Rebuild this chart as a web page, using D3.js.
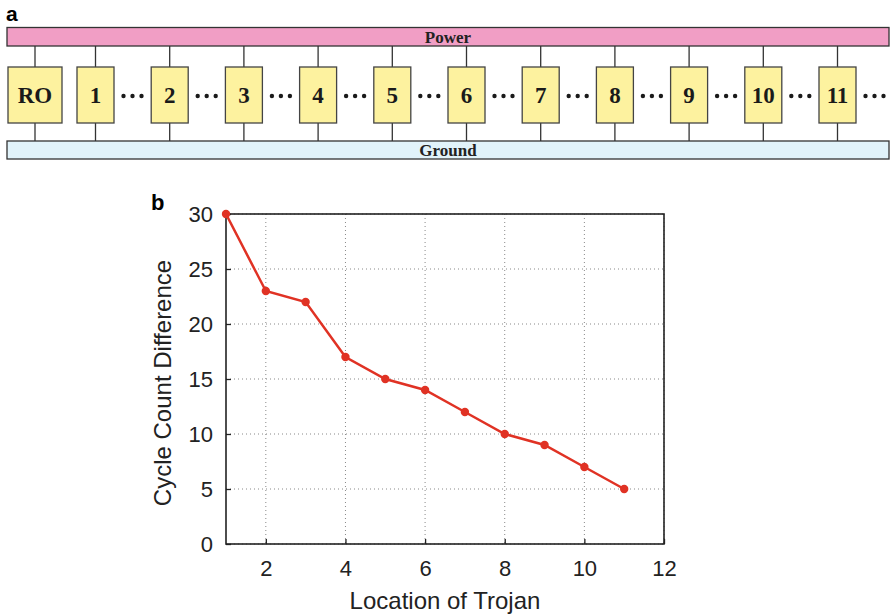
<!doctype html>
<html>
<head>
  <meta charset="utf8">
  <title>sketch</title>
  <style>
    body { margin: 0; padding: 0; background: #fff; }
    svg { display: block; }
  </style>
</head>
<body>
  <svg></svg>

  <script src="https://d3js.org/d3.v7.min.js"></script>
  <script>
    // panel a: ring oscillator chain
    const blocks = ['RO', '1', '2', '3', '4', '5', '6', '7', '8', '9', '10', '11']
    // panel b: cycle count difference by trojan location
    const locations = [1, 2, 3, 4, 5, 6, 7, 8, 9, 10, 11]
    const cycleDiff = [30, 23, 22, 17, 15, 14, 12, 10, 9, 7, 5]
    const xTicks = [2, 4, 6, 8, 10, 12]
    const yTicks = [0, 5, 10, 15, 20, 25, 30]

    const width = 892
    const height = 616
    const svg = d3.select('svg').attr('width', width).attr('height', height)
    const serif = '"Liberation Serif", "Times New Roman", serif'
    const sans = '"Liberation Sans", Arial, Helvetica, sans-serif'

    // ---- panel a ----
    svg.append('text').attr('x', 6).attr('y', 21).text('a')
      .style('font-family', sans).style('font-weight', 'bold').style('font-size', '21px')

    const barX0 = 7, barX1 = 889
    svg.append('rect').attr('x', barX0).attr('y', 27.5).attr('width', barX1 - barX0).attr('height', 18.5)
      .attr('fill', '#f19ec5').attr('stroke', '#333').attr('stroke-width', 1.3)
    svg.append('rect').attr('x', barX0).attr('y', 141).attr('width', barX1 - barX0).attr('height', 18)
      .attr('fill', '#e1f3fa').attr('stroke', '#333').attr('stroke-width', 1.3)
    svg.append('text').attr('x', 448).attr('y', 43).attr('text-anchor', 'middle').text('Power')
      .style('font-family', serif).style('font-weight', 'bold').style('font-size', '17px').attr('fill', '#222')
    svg.append('text').attr('x', 448).attr('y', 155.5).attr('text-anchor', 'middle').text('Ground')
      .style('font-family', serif).style('font-weight', 'bold').style('font-size', '17px').attr('fill', '#222')

    // box centres: RO wider, others evenly spaced
    const boxPos = d3.scalePoint().domain(blocks.slice(1)).range([95.5, 95.5 + 10 * 74.2])
    const cx = d => d === 'RO' ? 35 : boxPos(d)
    const bw = d => d === 'RO' ? 54 : 37
    const boxTop = 67, boxH = 56

    const boxes = svg.append('g').selectAll('g').data(blocks).join('g')
    boxes.append('line').attr('x1', cx).attr('x2', cx).attr('y1', 46).attr('y2', boxTop)
      .attr('stroke', '#333').attr('stroke-width', 1.3)
    boxes.append('line').attr('x1', cx).attr('x2', cx).attr('y1', boxTop + boxH).attr('y2', 141)
      .attr('stroke', '#333').attr('stroke-width', 1.3)
    boxes.append('rect').attr('x', d => cx(d) - bw(d) / 2).attr('y', boxTop)
      .attr('width', bw).attr('height', boxH)
      .attr('fill', '#fdf29f').attr('stroke', '#444').attr('stroke-width', 1.3)
    boxes.append('text').attr('x', cx).attr('y', boxTop + boxH / 2 + 8).attr('text-anchor', 'middle')
      .text(d => d)
      .style('font-family', serif).style('font-weight', 'bold').style('font-size', '23px').attr('fill', '#1a1a1a')

    // dots after each numbered box
    const dotGroups = svg.append('g').selectAll('g').data(blocks.slice(1)).join('g')
      .attr('transform', d => `translate(${cx(d) + 37},${boxTop + boxH / 2 + 1})`)
    dotGroups.selectAll('circle').data([-9, 0, 9]).join('circle')
      .attr('cx', d => d).attr('cy', 0).attr('r', 2.2).attr('fill', '#1a1a1a')

    // ---- panel b ----
    const pLeft = 226, pRight = 664, pTop = 214, pBottom = 544
    const x = d3.scaleLinear().domain([1, 12]).range([pLeft, pRight])
    const y = d3.scaleLinear().domain([0, 30]).range([pBottom, pTop])

    svg.append('text').attr('x', 151).attr('y', 210).text('b')
      .style('font-family', sans).style('font-weight', 'bold').style('font-size', '22px')

    const grid = svg.append('g')
    grid.selectAll('.gx').data(xTicks).join('line')
      .attr('x1', x).attr('x2', x).attr('y1', pTop).attr('y2', pBottom)
      .attr('stroke', '#888').attr('stroke-width', 1).attr('stroke-dasharray', '1,3')
    grid.selectAll('.gy').data(yTicks).join('line')
      .attr('x1', pLeft).attr('x2', pRight).attr('y1', y).attr('y2', y)
      .attr('stroke', '#888').attr('stroke-width', 1).attr('stroke-dasharray', '1,3')

    const xAxis = svg.append('g').attr('transform', `translate(0,${pBottom})`)
      .call(d3.axisBottom(x).tickValues(xTicks).tickSize(-5).tickPadding(16))
    const yAxis = svg.append('g').attr('transform', `translate(${pLeft},0)`)
      .call(d3.axisLeft(y).tickValues(yTicks).tickSize(-5).tickPadding(13))
    ;[xAxis, yAxis].forEach(a => {
      a.select('.domain').remove()
      a.selectAll('.tick line').attr('stroke', '#222').attr('stroke-width', 1.3)
      a.selectAll('text').style('font-family', sans).style('font-size', '22px').attr('fill', '#222')
    })
    yAxis.selectAll('text').attr('dy', '0.36em')

    svg.append('rect').attr('x', pLeft).attr('y', pTop).attr('width', pRight - pLeft).attr('height', pBottom - pTop)
      .attr('fill', 'none').attr('stroke', '#222').attr('stroke-width', 1.6)

    const pts = locations.map((d, i) => [d, cycleDiff[i]])
    svg.append('path').datum(pts)
      .attr('d', d3.line().x(d => x(d[0])).y(d => y(d[1])))
      .attr('fill', 'none').attr('stroke', '#e03224').attr('stroke-width', 2.5)
    svg.append('g').selectAll('circle').data(pts).join('circle')
      .attr('cx', d => x(d[0])).attr('cy', d => y(d[1])).attr('r', 4.2).attr('fill', '#e03224')

    svg.append('text').attr('x', (pLeft + pRight) / 2).attr('y', 609).attr('text-anchor', 'middle')
      .text('Location of Trojan')
      .style('font-family', sans).style('font-size', '24px').attr('fill', '#222')
    svg.append('text').attr('transform', `translate(171,383) rotate(-90)`)
      .attr('text-anchor', 'middle').text('Cycle Count Difference')
      .style('font-family', sans).style('font-size', '24px').attr('fill', '#222')
  </script>
</body>
</html>
